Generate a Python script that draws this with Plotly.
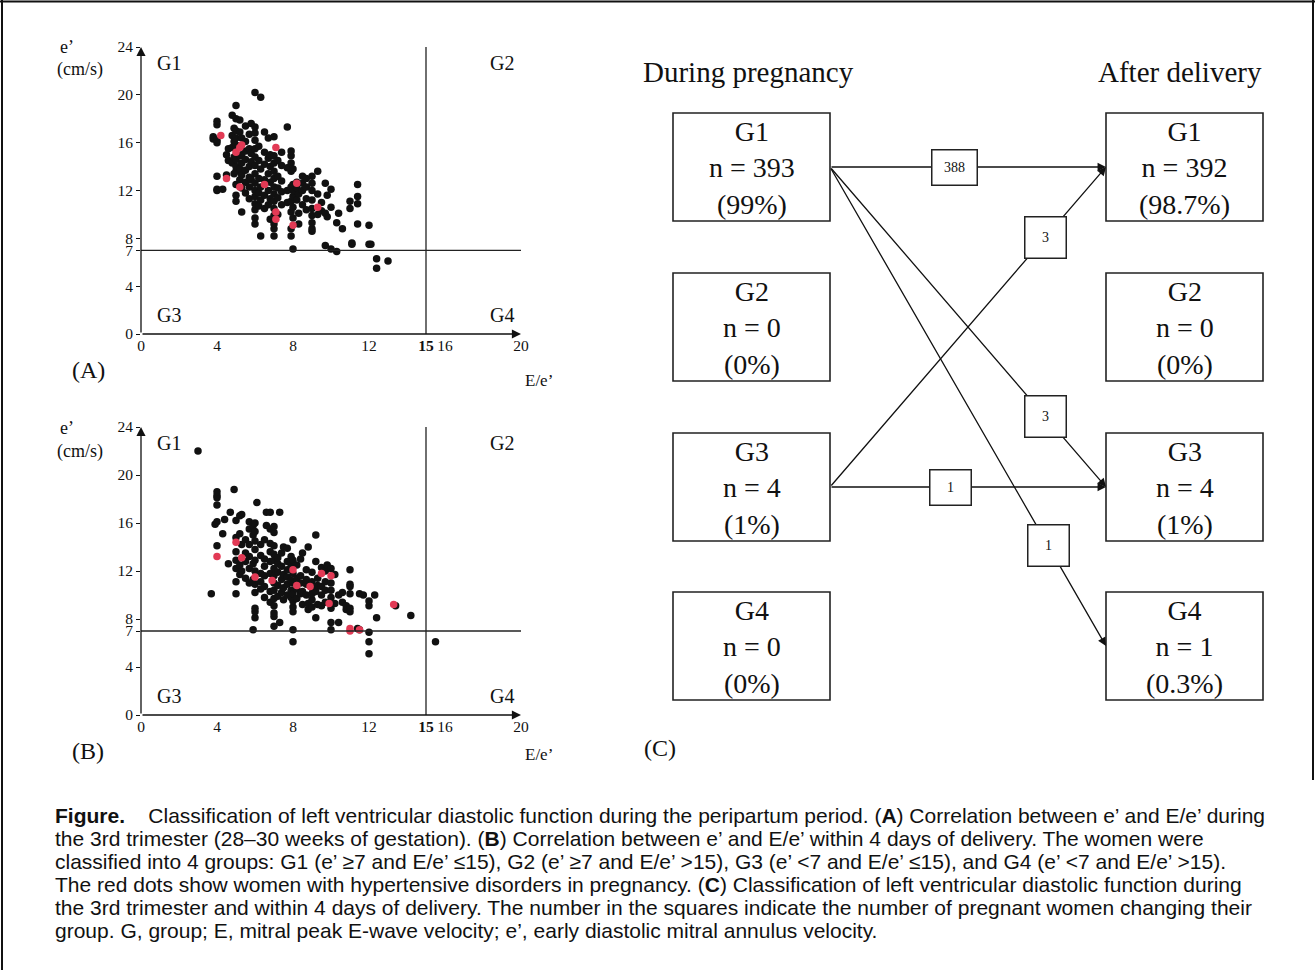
import plotly.graph_objects as go

W, H = 1315, 970

# ---------------- data: panel A (3rd trimester) ----------------
# (E/e' value, list of e' values) columns
a_black_cols = [
    (3.8, [16.5, 16.3]),
    (4.0, [12.0, 12.1, 13.2, 16.0, 16.2, 17.5, 17.8]),
    (4.3, [12.1]),
    (4.5, [13.3, 15.0]),
    (4.6, [14.5, 15.5]),
    (4.8, [14.3, 15.6, 16.6, 18.3]),
    (4.9, [13.4, 14.8, 16.1, 17.2]),
    (5.0, [11.1, 11.6, 12.5, 13.6, 14.0, 14.6, 15.8, 16.4, 17.0, 18.0, 19.1]),
    (5.2, [12.9, 13.8, 14.9, 16.9, 17.9]),
    (5.3, [10.2, 12.2, 13.3, 14.3, 15.0, 16.4]),
    (5.5, [11.8, 12.7, 13.7, 14.6, 15.3, 16.1, 17.4]),
    (5.7, [11.3, 12.3, 13.1, 14.0, 15.5, 16.7]),
    (5.8, [12.9, 14.4, 15.1, 17.6]),
    (6.0, [9.2, 9.7, 10.4, 10.9, 11.5, 12.0, 12.6, 13.4, 14.1, 14.8, 15.5, 16.2, 16.8, 17.3, 20.2]),
    (6.2, [10.7, 11.8, 13.0, 14.5, 15.7]),
    (6.3, [8.2, 11.2, 12.3, 13.8, 19.8]),
    (6.5, [10.5, 11.6, 12.9, 14.2, 15.2, 16.9]),
    (6.7, [10.8, 12.0, 13.4, 14.7, 16.4]),
    (6.8, [9.6, 11.3, 12.7, 14.0, 15.0]),
    (7.0, [8.2, 8.8, 9.2, 9.9, 10.5, 11.1, 11.7, 12.3, 13.0, 13.6, 14.3, 14.9, 16.5]),
    (7.2, [10.0, 11.4, 12.2, 13.2, 14.5]),
    (7.4, [10.8, 11.9, 12.8, 14.1, 15.2]),
    (7.7, [11.0, 12.0, 13.9, 17.3]),
    (7.9, [8.2, 8.8, 10.2, 11.1, 12.3, 13.6, 14.3, 14.9, 15.3]),
    (8.0, [7.1, 9.7, 10.6, 11.5, 12.0, 12.5, 13.8]),
    (8.2, [11.2, 12.2, 12.7]),
    (8.3, [9.2, 10.1, 11.7]),
    (8.5, [10.8, 12.0, 12.6, 13.2]),
    (8.7, [10.4, 11.3, 12.3, 13.0]),
    (9.0, [8.6, 8.8, 9.3, 9.9, 10.5, 11.2, 12.0, 12.6, 13.2]),
    (9.3, [10.0, 11.7, 13.6]),
    (9.5, [10.3, 11.0]),
    (9.7, [7.4, 10.1, 12.6]),
    (9.8, [9.8, 11.6]),
    (10.0, [7.1, 10.6, 12.1]),
    (10.3, [6.9, 9.3]),
    (10.4, [10.1]),
    (10.6, [8.8]),
    (11.0, [10.5, 11.1]),
    (11.1, [7.5, 7.6]),
    (11.4, [9.2, 10.9, 11.5, 12.5]),
    (12.0, [7.5, 9.1]),
    (12.1, [7.5]),
    (12.4, [5.5, 6.3]),
    (13.0, [6.1]),
]
a_red_x = [4.2, 5.0, 5.2, 5.3, 7.1, 4.5, 5.2, 6.5, 8.2, 9.3, 7.1, 7.1, 8.0]
a_red_y = [16.6, 15.2, 15.6, 15.8, 15.6, 13.0, 12.3, 12.5, 12.6, 10.6, 10.2, 9.6, 9.1]

# ---------------- data: panel B (within 4 days of delivery) ----------------
b_black_cols = [
    (3.0, [22.0]),
    (3.7, [10.1]),
    (3.9, [15.9]),
    (4.0, [14.1, 16.1, 17.5, 18.1, 18.3, 18.6]),
    (4.3, [15.1]),
    (4.4, [16.3]),
    (4.6, [12.6]),
    (4.7, [16.9]),
    (4.9, [18.8]),
    (5.0, [10.1, 11.1, 12.2, 12.9, 13.6, 14.8, 16.2]),
    (5.2, [11.7, 12.5, 15.1, 16.6]),
    (5.3, [12.0, 14.2, 16.7]),
    (5.5, [11.4, 12.8, 13.5, 14.6]),
    (5.7, [11.0, 12.2, 13.2, 14.2, 15.5, 16.1]),
    (5.9, [7.1, 11.3, 12.6, 15.0, 15.8]),
    (6.0, [8.1, 8.6, 8.9, 10.2, 10.9, 12.0, 12.9, 13.8, 14.5, 15.3, 16.0]),
    (6.1, [17.7]),
    (6.3, [10.5, 11.1, 11.8, 13.3, 14.2]),
    (6.5, [9.8, 10.7, 11.6, 12.4, 13.0, 14.6]),
    (6.6, [15.8, 16.9]),
    (6.8, [9.4, 10.3, 11.8, 12.8, 13.6, 14.3, 15.5, 16.9]),
    (7.0, [7.4, 8.2, 8.5, 9.1, 9.7, 10.4, 11.0, 11.6, 12.2, 12.9, 13.4, 14.1, 15.2, 15.7]),
    (7.2, [9.9, 10.8, 11.9, 12.6, 13.1]),
    (7.3, [7.7, 16.9]),
    (7.4, [10.2, 11.3, 12.4, 13.5]),
    (7.5, [9.6, 10.6, 11.7, 14.0]),
    (7.7, [10.0, 10.9, 11.5, 12.1, 12.8, 13.9]),
    (7.9, [9.8, 10.4, 11.2, 12.4, 13.2]),
    (8.0, [6.1, 7.1, 8.6, 9.0, 9.5, 10.1, 11.0, 11.8, 12.9, 14.6]),
    (8.2, [9.7, 10.5, 11.4, 12.5]),
    (8.4, [10.1, 11.0, 11.6, 13.0]),
    (8.5, [9.2, 10.3, 13.5]),
    (8.7, [10.0, 10.9, 11.3, 12.1]),
    (8.8, [8.8, 9.3, 14.0]),
    (9.0, [9.0, 9.6, 10.1, 10.6, 11.1, 11.9]),
    (9.2, [8.1, 10.3, 12.8, 15.0]),
    (9.3, [9.2, 10.8, 11.4]),
    (9.5, [9.1, 10.0, 10.7, 12.3]),
    (9.7, [9.4, 10.4, 11.1, 12.0]),
    (9.8, [12.5]),
    (10.0, [7.1, 7.7, 8.9, 9.3, 9.8, 10.4, 11.0, 12.2]),
    (10.2, [9.3, 11.7]),
    (10.4, [7.7, 10.0]),
    (10.6, [9.4, 10.2]),
    (10.8, [8.8, 9.1]),
    (11.0, [8.6, 8.9, 10.1, 10.7, 10.9, 12.1]),
    (11.4, [7.2]),
    (11.5, [7.1, 10.1]),
    (11.7, [10.0]),
    (12.0, [5.1, 6.1, 6.9, 9.1, 9.5]),
    (12.3, [10.0]),
    (12.4, [8.1]),
    (13.4, [9.1]),
    (14.2, [8.3]),
    (15.5, [6.1]),
]
b_red_x = [4.0, 5.0, 5.3, 6.0, 6.9, 8.0, 8.2, 8.9, 9.5, 10.0, 9.9, 11.0, 11.0, 11.5, 13.3]
b_red_y = [13.2, 14.4, 13.1, 11.5, 11.2, 12.1, 10.8, 10.7, 11.8, 11.6, 9.3, 7.2, 7.0, 7.1, 9.2]

# axis ticks
x_tickvals = [0, 4, 8, 12, 15, 16, 20]
x_ticktext = ["0", "4", "8", "12", "<b>15</b>", "16", "20"]
y_tickvals = [0, 4, 7, 8, 12, 16, 20, 24]
y_ticktext = ["0", "4", "7", "8", "12", "16", "20", "24"]
ee_cut, e_cut = 15, 7

# ---------------- data: panel C ----------------
groups = ["G1", "G2", "G3", "G4"]
during_n = [393, 0, 4, 0]
during_pct = ["99%", "0%", "1%", "0%"]
after_n = [392, 0, 4, 1]
after_pct = ["98.7%", "0%", "1%", "0.3%"]
# (from group index, to group index, number of women)
flows_from = [0, 2, 0, 0, 2]
flows_to = [0, 0, 2, 3, 2]
flows_n = [388, 3, 3, 1, 1]

caption_lines = [
    "<b>Figure.</b>    Classification of left ventricular diastolic function during the peripartum period. (<b>A</b>) Correlation between e\u2019 and E/e\u2019 during",
    "the 3rd trimester (28\u201330 weeks of gestation). (<b>B</b>) Correlation between e\u2019 and E/e\u2019 within 4 days of delivery. The women were",
    "classified into 4 groups: G1 (e\u2019 \u22657 and E/e\u2019 \u226415), G2 (e\u2019 \u22657 and E/e\u2019 >15), G3 (e\u2019 <7 and E/e\u2019 \u226415), and G4 (e\u2019 <7 and E/e\u2019 >15).",
    "The red dots show women with hypertensive disorders in pregnancy. (<b>C</b>) Classification of left ventricular diastolic function during",
    "the 3rd trimester and within 4 days of delivery. The number in the squares indicate the number of pregnant women changing their",
    "group. G, group; E, mitral peak E-wave velocity; e\u2019, early diastolic mitral annulus velocity.",
]


def expand(cols):
    xs, ys = [], []
    for xv, yl in cols:
        for yv in yl:
            xs.append(xv)
            ys.append(yv)
    return xs, ys


def px(x):
    return x / W


def py(y):
    return 1 - y / H


SERIF = "Liberation Serif, Times New Roman, serif"
SANS = "Liberation Sans, Arial, sans-serif"
BLACK = "#111111"
RED = "#e23a55"
INK = "#111111"

fig = go.Figure()
ann = []
shapes = []


def text_ann(x, y, text, size, family=SERIF, xanchor="center", yanchor="middle", **kw):
    d = dict(xref="paper", yref="paper", x=px(x), y=py(y), text=text, showarrow=False,
             xanchor=xanchor, yanchor=yanchor, font=dict(family=family, size=size, color=INK))
    d.update(kw)
    ann.append(d)


panels = [
    ("", a_black_cols, a_red_x, a_red_y, 334, "(A)", 47),
    ("2", b_black_cols, b_red_x, b_red_y, 715, "(B)", 39),
]
for sfx, cols, rx, ry, y0px, tag, eoff in panels:
    xr = "x" + sfx
    yr = "y" + sfx
    bx, by = expand(cols)
    fig.add_trace(go.Scatter(x=bx, y=by, mode="markers", xaxis=xr, yaxis=yr,
                             marker=dict(color=BLACK, size=7.5), showlegend=False,
                             cliponaxis=False, hoverinfo="skip"))
    fig.add_trace(go.Scatter(x=rx, y=ry, mode="markers", xaxis=xr, yaxis=yr,
                             marker=dict(color=RED, size=7.5), showlegend=False,
                             cliponaxis=False, hoverinfo="skip"))
    # threshold lines
    shapes.append(dict(type="line", xref=xr, yref=yr, x0=0, x1=20, y0=e_cut, y1=e_cut,
                       line=dict(color="#222", width=1.3)))
    shapes.append(dict(type="line", xref=xr, yref=yr, x0=ee_cut, x1=ee_cut, y0=0, y1=24,
                       line=dict(color="#222", width=1.3)))
    # axes with arrow heads
    for hx, hy in [(20, 0), (0, 24)]:
        ann.append(dict(xref=xr, yref=yr, axref=xr, ayref=yr, x=hx, y=hy, ax=0, ay=0,
                        showarrow=True, arrowhead=2, arrowsize=1.4, arrowwidth=1.3,
                        arrowcolor=INK, text="", standoff=0))
    # quadrant labels
    for gx, gy, gt in [(1.45, 22.7, "G1"), (19.0, 22.7, "G2"), (1.45, 1.6, "G3"), (19.0, 1.6, "G4")]:
        ann.append(dict(xref=xr, yref=yr, x=gx, y=gy, text=gt, showarrow=False,
                        xanchor="center", yanchor="middle",
                        font=dict(family=SERIF, size=20, color=INK)))
    # axis titles and panel tag
    text_ann(67, y0px - 287, "e\u2019", 18)
    text_ann(80, y0px - 264, "(cm/s)", 18)
    text_ann(539, y0px + eoff, "E/e\u2019", 17)
    text_ann(88, y0px + 36, tag, 24)

axis_common = dict(showgrid=False, zeroline=False, showline=False, automargin=False,
                   tickfont=dict(family=SERIF, size=15.5, color=INK))
fig.update_layout(
    xaxis=dict(domain=[px(141), px(521)], range=[0, 20], anchor="y",
               tickvals=x_tickvals, ticktext=x_ticktext, ticks="", **axis_common),
    yaxis=dict(domain=[py(334), py(47)], range=[0, 24], anchor="x",
               tickvals=y_tickvals, ticktext=y_ticktext, ticks="outside", ticklen=4,
               tickcolor=INK, **axis_common),
    xaxis2=dict(domain=[px(141), px(521)], range=[0, 20], anchor="y2",
                tickvals=x_tickvals, ticktext=x_ticktext, ticks="", **axis_common),
    yaxis2=dict(domain=[py(715), py(427)], range=[0, 24], anchor="x2",
                tickvals=y_tickvals, ticktext=y_ticktext, ticks="outside", ticklen=4,
                tickcolor=INK, **axis_common),
)

# ---------------- panel C ----------------
box_tops = [113, 273, 433, 592]
box_h = 108
L0, L1 = 673, 830
R0, R1 = 1106, 1263
centers = [t + box_h / 2 for t in box_tops]

for i, g in enumerate(groups):
    t = box_tops[i]
    for (x0, x1, n, pct) in [(L0, L1, during_n[i], during_pct[i]), (R0, R1, after_n[i], after_pct[i])]:
        shapes.append(dict(type="rect", xref="paper", yref="paper", x0=px(x0), x1=px(x1),
                           y0=py(t), y1=py(t + box_h), line=dict(color="#222", width=1.6),
                           fillcolor="rgba(0,0,0,0)"))
        text_ann((x0 + x1) / 2, t + box_h / 2 + 1, f"{g}<br>n = {n}<br>({pct})", 28)

text_ann(748, 72, "During pregnancy", 29)
text_ann(1180, 72, "After delivery", 29)
text_ann(660, 748, "(C)", 24)

label_t = [0.45, 0.78, 0.78, 0.79, 0.435]
label_w = [44, 40, 40, 40, 40]
label_h = [34, 40, 40, 40, 34]
# arrows first
for k in range(len(flows_n)):
    ys0 = centers[flows_from[k]]
    ys1 = centers[flows_to[k]]
    ann.append(dict(xref="paper", yref="paper", x=px(R0), y=py(ys1),
                    ax=L1 - R0, ay=ys0 - ys1, showarrow=True, arrowhead=2,
                    arrowsize=1.3, arrowwidth=1.3, arrowcolor=INK, text="", standoff=0))
# count squares on top
for k in range(len(flows_n)):
    ys0 = centers[flows_from[k]]
    ys1 = centers[flows_to[k]]
    t = label_t[k]
    cx = L1 + t * (R0 - L1)
    cy = ys0 + t * (ys1 - ys0)
    text_ann(cx, cy, str(flows_n[k]), 14, bgcolor="white", bordercolor="#222",
             borderwidth=1.5, borderpad=0, width=label_w[k], height=label_h[k])

# ---------------- caption ----------------
for i, line in enumerate(caption_lines):
    text_ann(53, 815 + 23 * i, line, 21, family=SANS, xanchor="left")

# frame
shapes.append(dict(type="line", xref="paper", yref="paper", x0=0, x1=1, y0=py(1.5), y1=py(1.5),
                   line=dict(color=INK, width=2)))
shapes.append(dict(type="line", xref="paper", yref="paper", x0=px(2), x1=px(2), y0=0, y1=1,
                   line=dict(color=INK, width=2)))
shapes.append(dict(type="line", xref="paper", yref="paper", x0=px(1313), x1=px(1313),
                   y0=py(780), y1=1, line=dict(color=INK, width=2)))

fig.update_layout(width=W, height=H, margin=dict(l=0, r=0, t=0, b=0, pad=0),
                  paper_bgcolor="white", plot_bgcolor="white",
                  annotations=ann, shapes=shapes, showlegend=False)

fig.write_html("out.html", config={"displayModeBar": False},
               post_script="document.body.style.margin='0';")
